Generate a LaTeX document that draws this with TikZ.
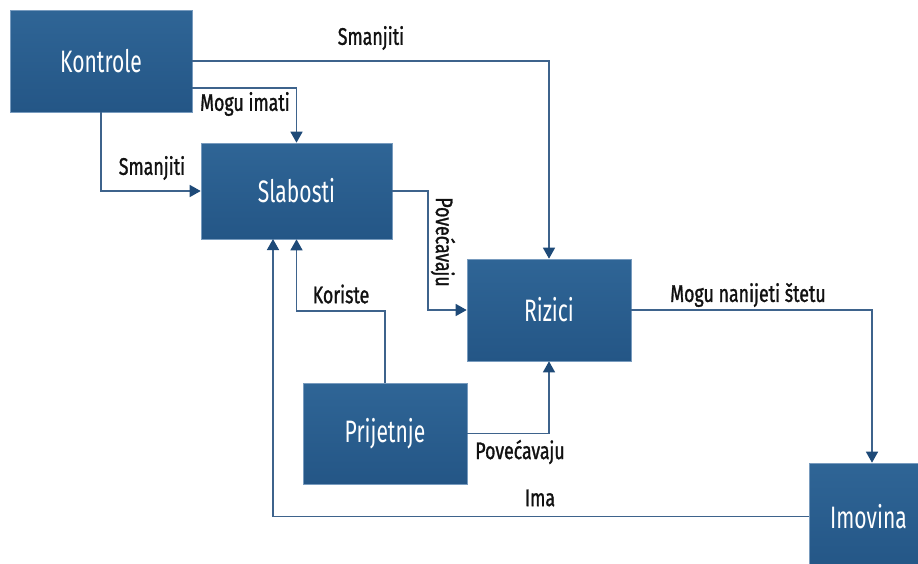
\documentclass[tikz,border=0pt]{standalone}
\usepackage{fontspec}
\setmainfont{Fira Sans}[FakeStretch=0.68]
\newfontfamily\labfont{Fira Sans}[FakeStretch=0.74, FakeBold=1.2]
\usetikzlibrary{arrows.meta}
\definecolor{boxtop}{RGB}{47,101,150}
\definecolor{boxbot}{RGB}{36,86,134}
\definecolor{boxedge}{RGB}{120,155,190}
\definecolor{linec}{RGB}{62,99,140}
\definecolor{tipc}{RGB}{30,74,120}
\definecolor{labc}{RGB}{17,17,17}
\tikzset{
  box/.style={rectangle, top color=boxtop, bottom color=boxbot, draw=boxedge, line width=0.6pt,
    text=white, font=\fontsize{31}{33}\selectfont, inner sep=0pt},
  conn/.style={draw=linec, line width=1.4pt, -{Triangle[length=11pt,width=12pt,fill=tipc,color=tipc]}},
  lab/.style={text=labc, font=\labfont\fontsize{24}{26}\selectfont, inner sep=0pt}
}
\begin{document}
\begin{tikzpicture}[x=1pt,y=-1pt]
\useasboundingbox (0,0) rectangle (918,563);
\node[box, minimum width=182pt, minimum height=102pt] (K) at (101,61) {Kontrole};
\node[box, minimum width=191pt, minimum height=96pt] (S) at (296.5,191) {Slabosti};
\node[box, minimum width=164pt, minimum height=102pt] (R) at (549,310) {Rizici};
\node[box, minimum width=164pt, minimum height=101pt] (P) at (385,433.5) {Prijetnje};
\node[box, minimum width=119pt, minimum height=107pt] (I) at (868.5,516.5) {Imovina};
\coordinate (c5) at (297,311);
\coordinate (c4) at (428,191);
\coordinate (c7) at (872,310);
\coordinate (c8) at (273,239);
% connectors
\draw[conn] (K.east) -| (R.north);
\draw[conn] ([yshift=-27pt]K.east) -| (S.north);
\draw[conn] (K.south) |- (S.west);
\draw[conn] (S.east) -- (c4) |- (R.west);
\draw[conn] (P.north) |- (S.south |- c5) -- (S.south);
\draw[conn] (P.east) -| (R.south);
\draw[conn] (R.east) -- (c7) -- (c7 |- I.north);
\draw[conn] (I.west) -| (c8);
% labels
\node[lab] (l1) at (371,38) {Smanjiti};
\node[lab] (l2) at (245,104) {Mogu imati};
\node[lab] (l3) at (152,168) {Smanjiti};
\node[lab, rotate=-90] (l4) at (443,242) {Povećavaju};
\node[lab] (l5) at (341,294) {Koriste};
\node[lab] (l6) at (520,452) {Povećavaju};
\node[lab] (l7) at (748,295) {Mogu nanijeti štetu};
\node[lab] (l8) at (540,498) {Ima};
\end{tikzpicture}
\end{document}
